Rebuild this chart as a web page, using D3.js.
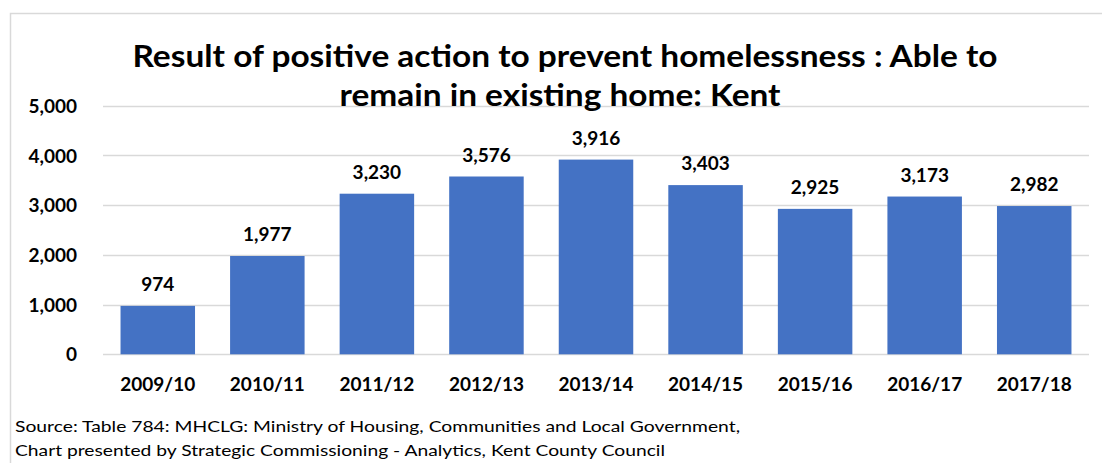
<!DOCTYPE html>
<html>
<head>
<meta charset="utf-8">
<script src="https://cdn.jsdelivr.net/npm/d3@7"></script>
<style>
  html, body { margin: 0; padding: 0; background: #fff; }
  svg { display: block; }
  text { font-family: Lato, "Open Sans", sans-serif; fill: #000; }
</style>
</head>
<body>
<svg id="chart" width="1102" height="463"></svg>
<script>
// Homelessness prevention outcomes: able to remain in existing home, Kent
const years = ["2009/10", "2010/11", "2011/12", "2012/13", "2013/14", "2014/15", "2015/16", "2016/17", "2017/18"];
const households = [974, 1977, 3230, 3576, 3916, 3403, 2925, 3173, 2982];
const yTicks = [0, 1000, 2000, 3000, 4000, 5000];
const titleLines = ["Result of positive action to prevent homelessness : Able to", "remain in existing home: Kent"];
const sourceLines = [
  "Source: Table 784: MHCLG: Ministry of Housing, Communities and Local Government,",
  "Chart presented by Strategic Commissioning - Analytics, Kent County Council"
];

const svg = d3.select("#chart");
const fmt = d3.format(",");
const labelSize = 19;

// chart frame (open on the right and bottom)
svg.append("path")
  .attr("d", "M10.5,463 V13.5 H1102")
  .attr("fill", "none")
  .attr("stroke", "#d9d9d9")
  .attr("stroke-width", 1.5);

const plot = { left: 103, right: 1089, top: 105.7, bottom: 354.3 };

const x = d3.scaleBand()
  .domain(years)
  .range([plot.left, plot.right])
  .paddingInner(0.32)
  .paddingOuter(0.16);

const y = d3.scaleLinear()
  .domain([0, 5000])
  .range([plot.bottom, plot.top]);

// horizontal gridlines
svg.append("g")
  .selectAll("line")
  .data(yTicks)
  .join("line")
  .attr("x1", plot.left)
  .attr("x2", plot.right)
  .attr("y1", d => Math.round(y(d)) + 0.5)
  .attr("y2", d => Math.round(y(d)) + 0.5)
  .attr("stroke", "#d9d9d9")
  .attr("stroke-width", 1.5);

// y axis labels
const yAxis = d3.axisLeft(y).tickValues(yTicks).tickFormat(fmt).tickSize(0).tickPadding(0);
svg.append("g")
  .attr("transform", "translate(77,0)")
  .call(yAxis)
  .call(g => g.select(".domain").remove())
  .selectAll("text")
  .attr("font-family", "Lato, sans-serif")
  .attr("font-size", labelSize)
  .attr("font-weight", 700)
  .attr("fill", "#000")
  .attr("dy", "0.35em");

// bars
svg.append("g")
  .selectAll("rect")
  .data(households)
  .join("rect")
  .attr("x", (d, i) => x(years[i]))
  .attr("width", x.bandwidth())
  .attr("y", d => y(d))
  .attr("height", d => y(0) - y(d))
  .attr("fill", "#4472c4");

// value labels
svg.append("g")
  .selectAll("text")
  .data(households)
  .join("text")
  .attr("x", (d, i) => x(years[i]) + x.bandwidth() / 2)
  .attr("y", d => y(d) - 15)
  .attr("text-anchor", "middle")
  .attr("font-size", labelSize)
  .attr("font-weight", 700)
  .text(d => fmt(d));

// x axis labels
const xAxis = d3.axisBottom(x).tickSize(0).tickPadding(0);
svg.append("g")
  .attr("transform", `translate(0,${plot.bottom})`)
  .call(xAxis)
  .call(g => g.select(".domain").remove())
  .selectAll("text")
  .attr("font-family", "Lato, sans-serif")
  .attr("font-size", labelSize)
  .attr("font-weight", 700)
  .attr("fill", "#000")
  .attr("dy", 0)
  .attr("y", 37);

// title
const titleSpecs = [
  { x: 565, y: 67, w: 865 },
  { x: 560, y: 106, w: 441 }
];
svg.append("g")
  .selectAll("text")
  .data(titleLines)
  .join("text")
  .attr("x", (d, i) => titleSpecs[i].x)
  .attr("y", (d, i) => titleSpecs[i].y)
  .attr("text-anchor", "middle")
  .attr("font-size", 31)
  .attr("font-weight", 700)
  .attr("textLength", (d, i) => titleSpecs[i].w)
  .attr("lengthAdjust", "spacingAndGlyphs")
  .text(d => d);

// source note
const sourceWidths = [725, 650];
svg.append("g")
  .selectAll("text")
  .data(sourceLines)
  .join("text")
  .attr("x", 15)
  .attr("y", (d, i) => 432 + i * 24)
  .attr("font-size", 16)
  .attr("fill", "#1a1a1a")
  .attr("textLength", (d, i) => sourceWidths[i])
  .attr("lengthAdjust", "spacingAndGlyphs")
  .text(d => d);
</script>
</body>
</html>
